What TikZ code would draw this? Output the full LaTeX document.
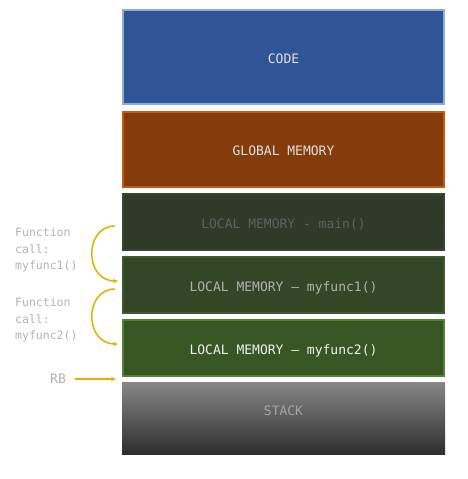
\documentclass[tikz,border=0pt]{standalone}
\usepackage{fontspec}
\setmonofont{DejaVu Sans Mono}
\usetikzlibrary{arrows.meta,positioning}
\definecolor{codefill}{HTML}{2F5597}
\definecolor{codeline}{HTML}{8FAADC}
\definecolor{globfill}{HTML}{843C0C}
\definecolor{globline}{HTML}{C55A11}
\definecolor{mainfill}{HTML}{2F3A28}
\definecolor{mainline}{HTML}{38452F}
\definecolor{fonefill}{HTML}{334726}
\definecolor{foneline}{HTML}{3F5A2E}
\definecolor{ftwofill}{HTML}{375623}
\definecolor{ftwoline}{HTML}{548235}
\definecolor{callcol}{HTML}{E6AE00}
\tikzset{
  seg/.style={draw,line width=2pt,minimum width=321pt,inner sep=0pt,
    text height=12pt,text depth=0pt,
    font=\fontsize{13}{15}\selectfont\ttfamily},
  note/.style={align=left,anchor=north west,inner sep=0pt,text=black!30,
    font=\fontsize{11.5}{16.5}\selectfont\ttfamily},
  call/.style={callcol,line width=1.5pt,-{Stealth[length=5pt,width=4.5pt]}}
}
\begin{document}
\begin{tikzpicture}[x=1pt,y=-1pt]
\useasboundingbox (0,0) rectangle (467,479);
% memory blocks
\node[seg,fill=codefill,draw=codeline,minimum height=94pt,text=white!88!black] (code) at (283.5,57) {CODE};
\node[seg,fill=globfill,draw=globline,minimum height=75pt,text=white!88!black] (global) at (283.5,149.5) {GLOBAL MEMORY};
\node[seg,fill=mainfill,draw=mainline,minimum height=56pt,text=black!62] (main) at (283.5,222) {LOCAL MEMORY - main()};
\node[seg,fill=fonefill,draw=foneline,minimum height=56pt,text=black!30] (fone) at (283.5,285) {LOCAL MEMORY – myfunc1()};
\node[seg,fill=ftwofill,draw=ftwoline,minimum height=56pt,text=white!95!black] (ftwo) at (283.5,348) {LOCAL MEMORY – myfunc2()};
\node[seg,draw=none,minimum width=323pt,minimum height=72pt,text depth=16.5pt,top color=black!47,bottom color=black!82,text=black!35] (stack) at (283.5,418) {STACK};
% notes on the left
\node[note] (nfone) at (15,228) {Function\\call:\\myfunc1()};
\node[note] (nftwo) at (15,298) {Function\\call:\\myfunc2()};
\node[note,anchor=center,font=\fontsize{13}{15}\selectfont\ttfamily] (rb) at (58,379) {RB};
% call arrows
\coordinate (cas) at (115,226);
\coordinate (cae) at (118,281);
\coordinate (cbs) at (115,289);
\coordinate (cbe) at (118,344);
\coordinate (rbe) at (116,379);
\draw[call] (cas) .. controls (84,226) and (84,281) .. (cae);
\draw[call] (cbs) .. controls (84,289) and (84,344) .. (cbe);
\draw[call] (rb.east) ++(9,0) -- (rbe);
\end{tikzpicture}
\end{document}
